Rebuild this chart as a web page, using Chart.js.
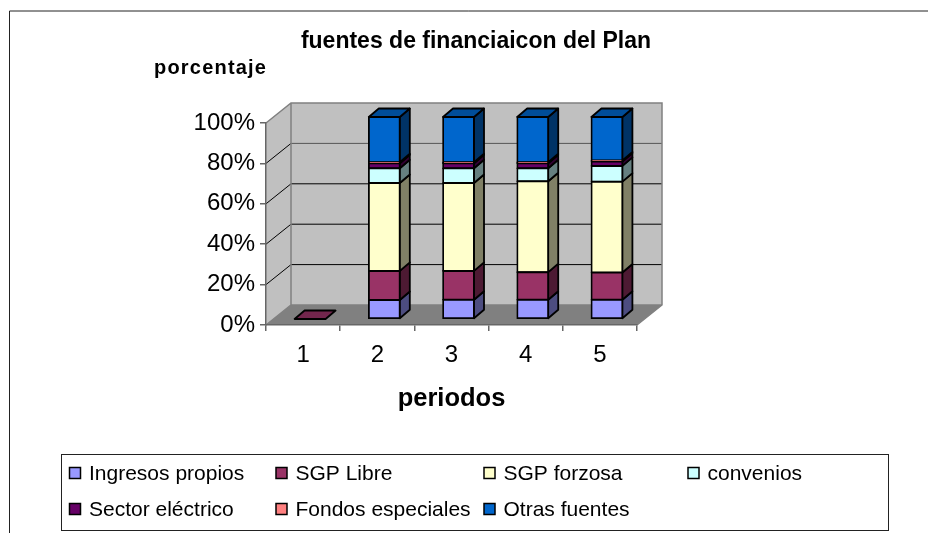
<!DOCTYPE html>
<html><head><meta charset="utf-8">
<style>html,body{margin:0;padding:0;background:#fff}canvas{display:block}</style>
<script src="https://cdn.jsdelivr.net/npm/chart.js@4/dist/chart.umd.js"></script>
</head><body><canvas id="c" width="928" height="533"></canvas>
<script>
const categories = ['1','2','3','4','5'];
const seriesNames = ['Ingresos propios','SGP Libre','SGP forzosa','convenios','Sector eléctrico','Fondos especiales','Otras fuentes'];
const seriesColors = ['#9999ff','#993366','#ffffcc','#ccffff','#660066','#ff8080','#0066cc'];
const ingresosPropios = [0, 9.4, 9.5, 9.5, 9.5];
const sgpLibre = [0, 14.4, 14.3, 13.7, 13.5];
const sgpForzosa = [0, 43.5, 43.5, 45.0, 45.0];
const convenios = [0, 7.3, 7.3, 6.4, 7.8];
const sectorElectrico = [0, 2.5, 2.5, 2.5, 2.2];
const fondosEspeciales = [0, 0.5, 0.5, 0.5, 0.5];
const otrasFuentes = [0, 22.4, 22.4, 22.4, 21.5];
const seriesValues = [ingresosPropios, sgpLibre, sgpForzosa, convenios, sectorElectrico, fondosEspeciales, otrasFuentes];
const chartTitle = 'fuentes de financiaicon del Plan';
const yTitle = 'porcentaje';
const xTitle = 'periodos';

const FONT = '"Liberation Sans", Arial, sans-serif';
const WALL_DX = 25, WALL_DY = -20;
const BAR_DX = 7, BAR_DY = -6;
const SIDE_DX = 10, SIDE_DY = -8.5;
const legendCols = [69, 275.5, 483.5, 687.5];
const legendRows = [473, 509];

function shade(hex, f){
  const n = parseInt(hex.slice(1),16);
  const c = [n>>16, (n>>8)&255, n&255].map(v=>Math.round(v*f));
  return `rgb(${c[0]},${c[1]},${c[2]})`;
}
function poly(ctx, pts, fill, stroke, lw){
  ctx.beginPath();
  pts.forEach((p,i)=> i?ctx.lineTo(p[0],p[1]):ctx.moveTo(p[0],p[1]));
  ctx.closePath();
  if(fill){ctx.fillStyle=fill;ctx.fill();}
  if(stroke){ctx.strokeStyle=stroke;ctx.lineWidth=lw;ctx.lineJoin='round';ctx.stroke();}
}
function line(ctx,x1,y1,x2,y2,col,lw){
  ctx.beginPath();ctx.moveTo(x1,y1);ctx.lineTo(x2,y2);ctx.strokeStyle=col;ctx.lineWidth=lw;ctx.stroke();
}
const scene = {
  id:'scene',
  afterLayout(chart){
    const t = chart.titleBlock;
    t.left = 0; t.right = 952;
  },
  beforeDraw(chart){
    const ctx = chart.ctx, a = chart.chartArea, y = chart.scales.y;
    ctx.save();
    ctx.fillStyle='#fff';ctx.fillRect(0,0,chart.width,chart.height);
    // outer frame
    ctx.beginPath();ctx.moveTo(9.5,533);ctx.lineTo(9.5,11);ctx.lineTo(928,11);
    ctx.strokeStyle='#222';ctx.lineWidth=1;ctx.stroke();
    const bl=a.left, br=a.right, bt=a.top, bb=a.bottom;
    poly(ctx,[[bl,bb],[bl,bt],[bl+WALL_DX,bt+WALL_DY],[bl+WALL_DX,bb+WALL_DY]],'#c0c0c0');
    poly(ctx,[[bl+WALL_DX,bt+WALL_DY],[br+WALL_DX,bt+WALL_DY],[br+WALL_DX,bb+WALL_DY],[bl+WALL_DX,bb+WALL_DY]],'#c0c0c0');
    poly(ctx,[[bl,bb],[br,bb],[br+WALL_DX,bb+WALL_DY],[bl+WALL_DX,bb+WALL_DY]],'#808080');
    y.ticks.forEach(t=>{
      if(t.value===0||t.value===100) return;
      const p=y.getPixelForValue(t.value);
      line(ctx,bl,p,bl+WALL_DX,p+WALL_DY,'#000',1);
      line(ctx,bl+WALL_DX,p+WALL_DY,br+WALL_DX,p+WALL_DY,t.value===80?'#555':'#000',1);
    });
    // wall outlines
    ctx.beginPath();
    ctx.moveTo(bl,bt);ctx.lineTo(bl+WALL_DX,bt+WALL_DY);ctx.lineTo(br+WALL_DX,bt+WALL_DY);ctx.lineTo(br+WALL_DX,bb+WALL_DY);ctx.lineTo(br,bb);
    ctx.moveTo(bl+WALL_DX,bt+WALL_DY);ctx.lineTo(bl+WALL_DX,bb+WALL_DY);
    ctx.moveTo(bl,bb);ctx.lineTo(bl+WALL_DX,bb+WALL_DY);ctx.lineTo(br+WALL_DX,bb+WALL_DY);
    ctx.strokeStyle='#808080';ctx.lineWidth=1.5;ctx.stroke();
    // y axis title
    ctx.font='bold 20px '+FONT;ctx.fillStyle='#000';ctx.textAlign='left';ctx.textBaseline='middle';
    ctx.letterSpacing='1.2px';
    ctx.fillText(yTitle,154,68);
    ctx.letterSpacing='0px';
    // legend
    ctx.fillStyle='#fff';ctx.fillRect(61.5,454.5,827,76);
    ctx.strokeStyle='#222';ctx.lineWidth=1;ctx.strokeRect(61.5,454.5,827,76);
    ctx.font='21px '+FONT;ctx.textAlign='left';
    seriesNames.forEach((n,i)=>{
      const cx=legendCols[i%4], cy=legendRows[Math.floor(i/4)];
      ctx.fillStyle=seriesColors[i];ctx.fillRect(cx+.5,cy-5.5,11,11);
      ctx.strokeStyle='#000';ctx.lineWidth=1.5;ctx.strokeRect(cx+.5,cy-5.5,11,11);
      ctx.fillStyle='#000';ctx.fillText(n,cx+20,cy+1);
    });
    ctx.restore();
  },
  beforeDatasetsDraw(chart){
    const ctx = chart.ctx;
    ctx.save();
    ctx.translate(BAR_DX,BAR_DY);
    const metas = chart.getSortedVisibleDatasetMetas();
    categories.forEach((c,ci)=>{
      let topIdx=-1;
      seriesValues.forEach((s,si)=>{ if(s[ci]>0) topIdx=si; });
      metas.forEach((m,si)=>{
        const b=m.data[ci].getProps(['x','y','base','width'],true);
        const L=b.x-b.width/2,R=b.x+b.width/2;
        if(topIdx<0){
          if(si===1) poly(ctx,[[L,b.y],[R,b.y],[R+SIDE_DX,b.y+SIDE_DY],[L+SIDE_DX,b.y+SIDE_DY]],shade(seriesColors[si],.75),'#000',1.8);
          return;
        }
        if(seriesValues[si][ci]<=0) return;
        poly(ctx,[[R,b.y],[R+SIDE_DX,b.y+SIDE_DY],[R+SIDE_DX,b.base+SIDE_DY],[R,b.base]],shade(seriesColors[si],.5),'#000',1.8);
        if(si===topIdx) poly(ctx,[[L,b.y],[R,b.y],[R+SIDE_DX,b.y+SIDE_DY],[L+SIDE_DX,b.y+SIDE_DY]],shade(seriesColors[si],.75),'#000',1.8);
      });
    });
  },
  afterDatasetsDraw(chart){ chart.ctx.restore(); }
};
new Chart(document.getElementById('c'),{
  type:'bar',
  data:{labels:categories,datasets:seriesNames.map((n,i)=>({
    label:n,data:seriesValues[i],backgroundColor:seriesColors[i],borderColor:'#000',borderWidth:1.8,
    borderSkipped:false,inflateAmount:.8,clip:false,categoryPercentage:1,barPercentage:.418
  }))},
  options:{
    responsive:false,animation:false,devicePixelRatio:1,
    layout:{padding:{left:186,right:291,top:0,bottom:119}},
    plugins:{
      legend:{display:false},tooltip:{enabled:false},
      title:{display:true,text:chartTitle,color:'#000',font:{family:FONT,size:23,weight:'bold'},padding:{top:27.5,bottom:67.9}}
    },
    scales:{
      x:{stacked:true,border:{color:'#666',width:1.5},
        grid:{drawOnChartArea:false,tickLength:6,color:'#666',lineWidth:1.5,offset:true},
        ticks:{color:'#000',font:{family:FONT,size:24},padding:10,maxRotation:0},
        title:{display:true,text:xTitle,color:'#000',font:{family:FONT,size:25.5,weight:'bold'},padding:{top:20,bottom:0}},
        afterFit(s){s.height=89;}},
      y:{stacked:true,min:0,max:100,border:{color:'#666',width:1.5},
        grid:{drawOnChartArea:false,tickLength:6,color:'#666',lineWidth:1.5},
        ticks:{stepSize:20,color:'#000',font:{family:FONT,size:24},padding:5,callback:v=>v+'%'},
        afterFit(s){s.width=80;}}
    }
  },
  plugins:[scene]
});
</script></body></html>
